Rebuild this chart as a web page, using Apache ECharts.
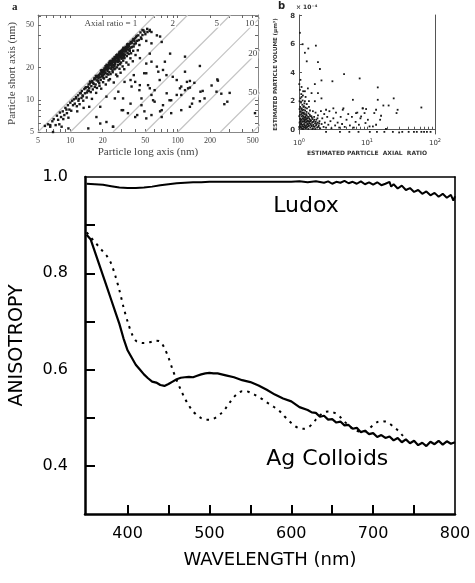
<!DOCTYPE html>
<html><head><meta charset="utf-8">
<script src="https://cdn.jsdelivr.net/npm/echarts@6/dist/echarts.min.js"></script>
<style>html,body{margin:0;padding:0;background:#fff}#c{width:475px;height:583px}</style>
</head><body><div id="c"></div>
<script>
// ---------- Panel a: particle long axis vs short axis (nm) ----------
const panelAPoints = [
[6.2,5.9],[6.5,5.6],[6.8,6.3],[7,6.6],[7.3,5.8],[7.5,7.1],[7.7,6.5],[8,7.6],[8.2,6.9],[8.5,7.8],[8.8,7.2],[7.9,5.9],
[9,8.4],[9.3,7.5],[9.5,8.9],[9.8,8.1],[10,9.4],[10.2,7.9],[10.4,9.8],[9.6,6.8],
[10.8,10.1],[11,9.2],[11.3,10.6],[11.5,8.7],[11.8,11],[12,10.2],[12.2,9.1],[12.5,11.6],[11.6,7.8],
[12.8,12.1],[13,11],[13.2,9.8],[13.5,12.6],[13.7,11.5],[14,13.1],[14.2,10.5],[14.5,12.2],[13.3,8.4],
[14.8,13.9],[15,12.8],[15.2,14.2],[15.5,11.8],[15.7,13.4],[16,15],[16.2,12.5],[16.5,14.1],[15.9,10.2],[16.7,15.5],
[17,15.8],[17.2,13.9],[17.5,16.2],[17.7,12.9],[18,16.8],[18.2,14.8],[18.5,17.1],[18.7,13.5],[17.4,11.6],[18.3,15.9],
[19,17.6],[19.2,15.3],[19.5,18.2],[19.7,16.6],[20,18.7],[20.2,14.6],[20.5,19.1],[20.7,17.3],[19.4,12.7],[20.3,16.1],[19.8,18.9],
[21,19.6],[21.2,17.8],[21.5,20.1],[21.7,16.4],[22,20.5],[22.2,18.6],[22.5,21],[22.7,15.2],[21.4,13.9],[22.3,19.4],[21.8,21.2],
[23,21.5],[23.2,19.7],[23.5,22],[23.7,17.4],[24,22.5],[24.2,20.3],[24.5,23],[24.7,18.8],[23.4,15.6],[24.3,21.7],[23.8,23.1],
[25,23.4],[25.2,21.2],[25.5,24],[25.7,19.3],[26,24.6],[26.2,22.4],[26.5,25],[26.7,17.2],[25.4,14.5],[26.3,23.5],[25.8,20.7],
[27,25.3],[27.2,23],[27.5,26],[27.7,21.1],[28,26.2],[28.2,24.1],[28.5,27],[28.7,19.5],[27.4,16.6],[28.3,25.5],[27.9,22.5],
[29,27.4],[29.2,25],[29.5,28],[29.7,22.3],[30,28.2],[30.2,26.1],[30.5,29],[30.7,20.5],[29.4,17.9],[30.3,27.3],[29.9,24.2],
[31,29.4],[31.3,27],[31.6,30],[32,24.5],[32.3,30.5],[32.6,28.2],[33,31.2],[33.3,22.3],[31.8,19.3],[32.8,29.6],[31.5,25.6],
[34,32],[34.3,29.5],[34.6,31],[35,26.8],[35.3,33],[35.7,30.2],[36,33.5],[36.3,24.4],[34.8,21.3],[35.8,28.6],
[37,34.5],[37.5,31.2],[38,35.7],[38.5,28.7],[39,36.5],[39.5,33.1],[40,37.5],[40.5,26.2],[38.2,22.9],
[41,38.5],[42,35.6],[43,40],[44,32.5],[45,42.6],[46,37.1],[42.5,29],[44.5,24.5],[48,44.5],[50,41],[52,46],[55,44],[51,35.5],
[16.3,14.4],[17.8,16.3],[18.9,17.4],[19.9,17.9],[20.8,19.6],[21.9,19.8],[22.8,20.8],[23.6,22.5],[24.6,22],[25.6,23.7],
[26.6,24.4],[27.6,24.9],[28.6,26.4],[29.6,26.5],[30.6,28.7],[31.9,29.1],[33.5,30.4],[24.1,19.5],[26.1,21.5],[28.1,23.4],
[22.1,17.5],[20.1,16.9],[30.1,25],[18.1,15.1],[26.9,26.1],[23.3,22.8],[21.3,20.6],[19.3,18.8],[17.3,16.7],[15.3,14.8],
[13.8,12.9],[12.3,11.5],[14.6,13.2],[28.9,28.1],[31.2,30.6],[33.9,32.9],
[15.6,14.6],[16.8,15.9],[17.6,15.2],[18.4,16.4],[19.1,16.2],[19.6,17.2],[20.4,18.2],[20.9,18.5],[21.6,19.2],[22.4,19.9],
[22.9,22.1],[23.9,21.1],[24.4,21.2],[24.9,24.1],[25.3,22.6],[25.9,25.1],[26.4,23.2],[26.8,22.8],[27.3,26.4],[27.8,24.2],
[28.4,25.1],[28.8,27.7],[29.3,26.2],[29.8,28.6],[30.4,27.9],[30.9,29.5],[31.4,28.3],[31.7,26.1],[32.2,29.2],[32.9,30.9],
[33.2,28.7],[33.7,31.3],[34.5,33.2],[35.1,31.9],[35.5,29],[36.5,34.8],[37.3,33.8],[38.7,36.9],[39.7,35.2],[41.5,39.6],
[20.6,15.8],[22.6,17.2],[24.8,18.1],[26.2,19.6],[27.1,20.1],[29.1,21.5],[31.1,23.2],[33.6,25.6],[36.8,27.2],[18.6,14.3],
[16.9,13.2],[14.9,12.1],[13.1,10.8],[11.9,9.8],[10.6,8.9],[9.2,8.1],[8.6,6.6],[12.7,10.4],[14.3,11.7],[23.1,18.2],
[25.1,20.1],[28.6,22.9],[30.8,24.5],[32.4,26.5],[34.1,27.4],[36.9,30.8],[38.9,31.5],[40.8,33.7],[43.5,36.2],[45.5,38.2],
[47,40.3],[49,43.2],
[117,25.3],[117,18.3],[161,20.7],[130,15],[143,14.4],[130,13],[207,13.6],[234,15.5],[237,15.1],[163,11.9],[171,12.1],
[230,11.9],[255,11.4],[305,11.6],[161,9.7],[178,10.3],[136,9.2],[272,9.1],[290,9.6],[525,7.5],
[64,40],[71,34.7],[57,43],[85,27],[64,20.4],[57,22.7],[51,17.7],[73,19],[39,17],[32,14.7],[37.2,13.3],[44,12.3],[53,13.7],
[68,15.3],[90,16.4],[105,12.8],[122,14.7],[79,11.5],[57,11.1],[46,10.3],[61,9.6],[84,9.9],[98,11.1],[117,12.3],[71,8.0],
[57,7.2],[42,7.2],[31,8.0],[26,10.3],[21.7,10.7],[19,8.6],[17.5,6.9],[19,6.0],[25,5.6],[14.7,5.4],[21.7,6.2],[87,7.5],
[140,10.3],[15,8.6],[11.3,10.3],[8.3,5.6],[9.6,5.4],[6.5,5.8],[5.8,5.7],[6.9,5.0],
[47,44.9],[52.3,43],[55,45],[68.6,39],[57,33.7],[55,27],[76,22.7],[66,18.3],[78.6,17],[51,21.8],[48.8,17.7],[36.4,15.3],
[40.2,14.7],[44.4,13.7],[55,12.8],[61,12.3],[98,15.3],[108,13.3],[125,12.8],[108,11.1],[87,9.9],[73,8.9],[68.6,7.8],
[71,6.9],[49,7.8],[36.4,9.2],[31,10.3],[28,11.9],[30.1,8.0],[34.4,7.5],[40.2,6.9],[46,8.9],[59,9.9],[25,5.6],[51,6.7],
[108,8.0],[130,8.6]
];
const axialRatios = [1, 2, 5, 10, 20, 50, 100];
const ratioLabels = [[23.9,52,'Axial ratio = 1'],[90,52,'2'],[231,52,'5'],[470,52,'10'],[500,26.8,'20'],[500,11.6,'50']];
const panelALongTicks = [5,6,7,8,9,10,20,30,40,50,60,70,80,90,100,200,300,400,500];
const panelALongLabels = [5,10,20,50,100,200,500];
const panelAShortTicks = [5,6,7,8,9,10,20,30,40,50,60];
const panelAShortLabels = [5,10,20,50];

// ---------- Panel b: estimated particle axial ratio vs volume (x1e-4 um^3) ----------
const panelBPoints = [
[1.03,6.8],[1.13,6.0],[1.22,5.4],[1.37,5.7],[1.77,5.9],[1.3,4.8],[1.9,4.75],[2.03,4.26],[4.6,3.9],[7.8,3.6],[3.1,3.4],
[2.14,3.46],[1.71,3.2],[1.09,3.0],[1.22,2.7],[1.35,2.9],[1.53,2.57],[1.9,2.57],[2.14,2.2],[6.2,2.1],[1.71,2.0],[3.2,1.5],
[2.5,1.4],[4.4,1.4],[6.9,1.17],[8.6,1.5],[14.4,2.97],[14.4,2.1],[17.4,1.7],[20.8,1.7],[24.7,2.2],[28.2,1.4],[27.2,1.17],
[63,1.56],[13.6,1.4],[12.8,1.17],[16.1,0.98],[15.6,0.7],[13.6,0.35],[12.2,0.23],[9.7,1.45],[8.7,1.5],[9.2,1.17],[8.2,0.93],
[10.3,0.7],[9.5,0.47],[10.9,0.23],[19,0.05],[29.7,-0.19],
[33,-0.15],[41,-0.15],[49,-0.15],[54,-0.15],[63,-0.15],[69,-0.15],[76,-0.15],[86,-0.15],
[2.5,-0.15],[4,-0.15],[5.5,-0.15],[7.5,-0.15],[11,-0.15],[14,-0.15],[18,-0.15],[24,-0.15],
[1.02,0.1],[1.03,0.3],[1.04,0.55],[1.05,0.8],[1.03,1.05],[1.06,1.3],[1.04,1.6],[1.07,1.9],[1.05,2.2],[1.08,2.5],[1.03,2.8],
[1.06,0.2],[1.08,0.45],[1.1,0.7],[1.09,0.95],[1.11,1.2],[1.1,1.45],[1.12,1.75],[1.13,2.05],[1.12,0.05],[1.14,0.35],[1.15,0.6],
[1.16,0.9],[1.15,1.15],[1.17,1.4],[1.18,1.65],[1.2,0.15],[1.19,0.4],[1.21,0.65],[1.22,0.85],[1.2,1.1],[1.23,1.35],[1.24,1.55],
[1.22,2.0],[1.26,0.1],[1.27,0.3],[1.25,0.5],[1.28,0.75],[1.3,1.0],[1.29,1.25],[1.31,1.5],[1.3,1.8],[1.33,0.2],[1.35,0.45],
[1.34,0.65],[1.36,0.9],[1.38,1.15],[1.37,0.05],[1.4,0.3],[1.42,0.55],[1.41,0.8],[1.44,1.05],[1.45,1.35],[1.47,0.15],[1.49,0.4],
[1.5,0.65],[1.52,0.95],[1.54,0.25],[1.56,0.5],[1.58,0.75],[1.6,0.1],[1.62,0.35],[1.65,0.6],[1.67,0.9],[1.7,0.2],[1.72,0.45],
[1.75,1.2],[1.78,0.3],[1.8,0.7],[1.85,0.15],[1.88,0.5],[1.9,1.0],[1.95,0.3],[2.0,0.6],[2.05,0.1],[2.1,1.3],[2.15,0.4],[2.2,0.8],
[2.3,0.2],[2.35,1.1],[2.4,0.5],[2.5,0.15],[2.6,0.9],[2.7,0.35],[2.8,1.3],[2.9,0.6],[3.0,0.1],[3.2,0.8],[3.4,0.3],[3.5,1.2],
[3.7,0.5],[3.9,0.15],[4.1,0.9],[4.3,0.4],[4.5,1.5],[4.7,0.2],[5.0,0.7],[5.3,1.1],[5.6,0.3],[6.0,0.9],[6.4,0.15],[6.8,0.55],
[7.2,1.2],[7.6,0.35],[8.0,0.8],[1.01,3.2],[1.05,3.5],[1.15,2.7],[1.25,2.3],[1.4,2.0],[1.12,0.25],[1.18,0.75],[1.28,0.55],
[1.08,1.1],[1.35,0.35],[1.02,1.45],[1.45,0.7],[1.06,0.65],[1.16,0.05],[1.24,0.95],
[1.01,0.2],[1.02,0.5],[1.04,0.75],[1.01,0.95],[1.07,0.15],[1.09,0.35],[1.11,0.55],[1.13,0.8],[1.14,1.0],[1.17,0.2],
[1.19,0.55],[1.21,0.3],[1.23,0.7],[1.26,0.85],[1.27,1.1],[1.29,0.15],[1.32,0.4],[1.33,0.8],[1.36,0.6],[1.39,0.25],
[1.43,0.45],[1.46,0.95],[1.48,0.6],[1.51,0.3],[1.55,0.85],[1.57,0.05],[1.61,0.55],[1.64,0.25],[1.68,0.7],[1.73,0.05],
[1.76,0.55],[1.82,0.4],[1.87,0.8],[1.92,0.2],[1.98,0.45],[1.04,1.25],[1.08,1.5],[1.12,1.35],[1.16,1.6],[1.2,1.85],
[1.09,2.3],[1.14,2.4],[1.02,2.0],[1.3,0.6],[1.18,1.2],[1.11,0.1],[1.05,0.4],[1.25,0.2],[1.4,1.6],[1.6,1.3]
];
const panelBRatioTicks = [1,2,3,4,5,6,7,8,9,10,20,30,40,50,60,70,80,90,100];
const panelBRatioLabels = [1,10,100];
const panelBVolumeLabels = [0,2,4,6,8];

// ---------- Main panel: anisotropy vs wavelength ----------
const ludoxWl  = [350,360,370,380,390,400,410,420,430,440,450,460,470,480,490,500,520,540,560,580,600,610,620,630,640,645,650,655,660,665,670,675,680,685,690,695,700,705,710,715,720,722,725,730,735,740,745,750,755,760,765,770,775,780,785,790,795,798,800];
const ludoxVal = [0.986,0.985,0.984,0.981,0.978,0.977,0.977,0.978,0.980,0.983,0.985,0.987,0.988,0.989,0.989,0.990,0.990,0.990,0.990,0.990,0.990,0.991,0.989,0.991,0.988,0.991,0.986,0.990,0.988,0.992,0.987,0.990,0.986,0.991,0.985,0.989,0.984,0.989,0.983,0.986,0.990,0.980,0.985,0.976,0.982,0.973,0.977,0.969,0.973,0.965,0.970,0.962,0.967,0.959,0.965,0.957,0.963,0.951,0.960];
const agSolidWl  = [350,355,360,365,370,375,380,385,390,395,400,405,410,415,420,425,430,435,440,445,450,455,460,465,470,475,480,485,490,495,500,505,510,515,520,530,540,550,560,570,580,590,600,610,620,625,630,635,640,645,650,655,660,665,670,675,680,685,690,695,700,705,710,715,720,725,730,735,740,745,750,755,760,765,770,775,780,785,790,795,800];
const agSolidVal = [0.88,0.87,0.845,0.82,0.795,0.77,0.745,0.72,0.695,0.665,0.64,0.625,0.61,0.60,0.59,0.582,0.575,0.573,0.568,0.566,0.57,0.575,0.58,0.583,0.584,0.585,0.584,0.587,0.59,0.592,0.593,0.592,0.592,0.59,0.588,0.584,0.578,0.574,0.567,0.558,0.548,0.54,0.534,0.522,0.516,0.511,0.510,0.502,0.504,0.496,0.497,0.490,0.492,0.484,0.485,0.477,0.479,0.470,0.473,0.466,0.468,0.460,0.464,0.458,0.461,0.453,0.458,0.449,0.455,0.447,0.452,0.443,0.448,0.441,0.450,0.445,0.452,0.444,0.451,0.446,0.449];
const agDotWl  = [350,355,360,365,370,375,380,385,390,395,400,405,410,415,420,425,430,435,440,445,450,455,460,465,470,475,480,485,490,495,500,505,510,515,520,525,530,535,540,545,550,555,560,565,570,575,580,585,590,595,600,605,610,615,620,625,630,635,640,645,650,655,660,665,670,675,680,685,690,695,700,705,710,715,720,725,730,735,740];
const agDotVal = [0.885,0.875,0.865,0.855,0.845,0.835,0.82,0.795,0.765,0.73,0.70,0.675,0.66,0.656,0.655,0.656,0.658,0.66,0.658,0.645,0.625,0.60,0.578,0.558,0.54,0.525,0.513,0.505,0.499,0.496,0.496,0.498,0.503,0.51,0.52,0.532,0.543,0.551,0.555,0.555,0.552,0.548,0.543,0.538,0.532,0.527,0.521,0.515,0.506,0.497,0.489,0.482,0.478,0.477,0.479,0.486,0.496,0.505,0.511,0.513,0.512,0.508,0.501,0.492,0.484,0.477,0.473,0.471,0.472,0.477,0.485,0.491,0.493,0.492,0.488,0.481,0.474,0.465,0.456];
const wlTicks = [400,450,500,550,600,650,700,750];
const wlLabels = [400,500,600,700,800];
const anisoTicks = [0.4,0.5,0.6,0.7,0.8,0.9];
const anisoLabels = [0.4,0.6,0.8,1.0];
const mainNotes = [[618,0.94,'Ludox'],[644,0.414,'Ag Colloids']];

const zip = (a, b) => a.map((v, i) => [v, b[i]]);
const SERIF = 'Liberation Serif, DejaVu Serif, serif';
const SANS = 'DejaVu Sans, sans-serif';

const chart = echarts.init(document.getElementById('c'), null, {renderer: 'canvas'});
const none = {show: false};
const option = {
  animation: false,
  backgroundColor: '#fff',
  grid: [
    {left: 38, top: 15, width: 220, height: 117},
    {left: 299, top: 15, width: 136, height: 119},
    {left: 81, top: 177, width: 374, height: 337}
  ],
  xAxis: [
    {gridIndex: 0, type: 'log', min: 5, max: 560,
     name: 'Particle long axis (nm)', nameLocation: 'middle', nameGap: 15,
     nameTextStyle: {fontFamily: SERIF, fontSize: 11, color: '#444'},
     axisLine: {show: true, lineStyle: {color: '#888', width: 1}},
     axisTick: {inside: true, length: 3, lineStyle: {color: '#666'}, customValues: panelALongTicks},
     axisLabel: {customValues: panelALongLabels, fontFamily: SERIF, fontSize: 8, color: '#444', margin: 5},
     splitLine: none, minorTick: none},
    {gridIndex: 0, type: 'log', min: 5, max: 560, position: 'top',
     axisLine: {show: true, lineStyle: {color: '#888', width: 1}},
     axisTick: {inside: true, length: 3, lineStyle: {color: '#666'}, customValues: panelALongTicks},
     axisLabel: none, splitLine: none},
    {gridIndex: 1, type: 'log', min: 1, max: 100,
     name: 'ESTIMATED PARTICLE  AXIAL  RATIO', nameLocation: 'middle', nameGap: 16,
     nameTextStyle: {fontFamily: SANS, fontSize: 6, fontWeight: 'bold', color: '#333'},
     axisLine: {show: true, lineStyle: {color: '#555', width: 1}},
     axisTick: {inside: true, length: 3, lineStyle: {color: '#555'}, customValues: panelBRatioTicks},
     axisLabel: {customValues: panelBRatioLabels, margin: 4,
       formatter: v => '{b|10}{s|' + Math.round(Math.log10(v)) + '}',
       rich: {b: {fontFamily: SANS, fontSize: 7, color: '#333'}, s: {fontFamily: SANS, fontSize: 5, color: '#333', verticalAlign: 'top', padding: [0, 0, 5, 0]}}},
     splitLine: none},
    {gridIndex: 1, type: 'log', min: 1, max: 100, position: 'top',
     axisLine: {show: true, lineStyle: {color: '#555', width: 1}}, axisTick: none, axisLabel: none, splitLine: none},
    {gridIndex: 2, type: 'value', min: 348, max: 800,
     name: 'WAVELENGTH (nm)', nameLocation: 'middle', nameGap: 37,
     nameTextStyle: {fontFamily: SANS, fontSize: 18, color: '#000'},
     axisLine: {show: true, lineStyle: {color: '#000', width: 2.5}},
     axisTick: {inside: true, length: 9, lineStyle: {color: '#000', width: 2}, customValues: wlTicks},
     axisLabel: {customValues: wlLabels, fontFamily: SANS, fontSize: 16, color: '#000', margin: 12},
     splitLine: none},
    {gridIndex: 2, type: 'value', min: 348, max: 800, position: 'top',
     axisLine: {show: true, lineStyle: {color: '#000', width: 1.6}}, axisTick: none, axisLabel: none, splitLine: none}
  ],
  yAxis: [
    {gridIndex: 0, type: 'log', min: 5, max: 62,
     name: 'Particle short axis (nm)', nameLocation: 'middle', nameGap: 20,
     nameTextStyle: {fontFamily: SERIF, fontSize: 11, color: '#444'},
     axisLine: {show: true, lineStyle: {color: '#888', width: 1}},
     axisTick: {inside: true, length: 3, lineStyle: {color: '#666'}, customValues: panelAShortTicks},
     axisLabel: {customValues: panelAShortLabels, fontFamily: SERIF, fontSize: 8, color: '#444', margin: 4},
     splitLine: none},
    {gridIndex: 0, type: 'log', min: 5, max: 62, position: 'right',
     axisLine: {show: true, lineStyle: {color: '#888', width: 1}},
     axisTick: {inside: true, length: 3, lineStyle: {color: '#666'}, customValues: panelAShortTicks},
     axisLabel: none, splitLine: none},
    {gridIndex: 1, type: 'value', min: -0.3, max: 8.05,
     name: 'ESTIMATED PARTICLE VOLUME (\u03bcm\u00b3)', nameLocation: 'middle', nameGap: 20,
     nameTextStyle: {fontFamily: SANS, fontSize: 5.5, fontWeight: 'bold', color: '#333'},
     axisLine: {show: true, lineStyle: {color: '#555', width: 1}},
     axisTick: {inside: true, length: 3, lineStyle: {color: '#555'}, customValues: panelBVolumeLabels},
     axisLabel: {customValues: panelBVolumeLabels, fontFamily: SANS, fontSize: 7, fontWeight: 'bold', color: '#333', margin: 4},
     splitLine: none},
    {gridIndex: 1, type: 'value', min: -0.3, max: 8.05, position: 'right',
     axisLine: {show: true, lineStyle: {color: '#555', width: 1}}, axisTick: none, axisLabel: none, splitLine: none},
    {gridIndex: 2, type: 'value', min: 0.3, max: 1.0,
     name: 'ANISOTROPY', nameLocation: 'middle', nameGap: 58,
     nameTextStyle: {fontFamily: SANS, fontSize: 19, color: '#000'},
     axisLine: {show: true, lineStyle: {color: '#000', width: 2.5}},
     axisTick: {inside: true, length: 10, lineStyle: {color: '#000', width: 2}, customValues: anisoTicks},
     axisLabel: {customValues: anisoLabels, fontFamily: SANS, fontSize: 16, color: '#000', margin: 17,
       formatter: v => v.toFixed(1)},
     splitLine: none},
    {gridIndex: 2, type: 'value', min: 0.3, max: 1.0, position: 'right',
     axisLine: {show: true, lineStyle: {color: '#000', width: 1.6}}, axisTick: none, axisLabel: none, splitLine: none}
  ],
  graphic: [
    {type: 'text', left: 12, top: 2, style: {text: 'a', font: 'bold 11px ' + SERIF, fill: '#222'}},
    {type: 'text', left: 278, top: 1, style: {text: 'b', font: 'bold 10px ' + SANS, fill: '#222'}},
    {type: 'text', left: 296, top: 4, style: {text: '\u00d7 10\u207b\u2074', font: 'bold 6px ' + SANS, fill: '#333'}}
  ],
  series: [
    ...axialRatios.map(r => ({
      type: 'line', xAxisIndex: 0, yAxisIndex: 0, data: [[5 * r, 5], [62 * r, 62]],
      symbol: 'none', silent: true, clip: true, z: 1,
      lineStyle: {color: '#c4c4c4', width: 1.2}
    })),
    {type: 'scatter', xAxisIndex: 0, yAxisIndex: 0, data: panelAPoints, symbol: 'rect', symbolSize: 2.4,
     itemStyle: {color: '#1a1a1a', opacity: 1}, z: 3},
    {type: 'scatter', xAxisIndex: 0, yAxisIndex: 0, data: ratioLabels, symbolSize: 0, z: 4,
     itemStyle: {opacity: 1},
     label: {show: true, position: 'inside', formatter: p => p.data[2], fontFamily: SERIF, fontSize: 9, color: '#444',
       backgroundColor: '#fff', padding: [0, 1]}},
    {type: 'scatter', xAxisIndex: 2, yAxisIndex: 2, data: panelBPoints, symbol: 'rect', symbolSize: 1.8,
     itemStyle: {color: '#1a1a1a', opacity: 1}, z: 3},
    {type: 'line', xAxisIndex: 4, yAxisIndex: 4, data: zip(ludoxWl, ludoxVal), symbol: 'none',
     lineStyle: {color: '#000', width: 2}},
    {type: 'line', xAxisIndex: 4, yAxisIndex: 4, data: zip(agSolidWl, agSolidVal), symbol: 'none',
     lineStyle: {color: '#000', width: 2.2}},
    {type: 'line', xAxisIndex: 4, yAxisIndex: 4, data: zip(agDotWl, agDotVal), symbol: 'none', smooth: 0.3,
     lineStyle: {color: '#000', width: 2, type: [2.5, 5]}},
    {type: 'scatter', xAxisIndex: 4, yAxisIndex: 4, data: mainNotes, symbolSize: 0,
     itemStyle: {opacity: 1},
     label: {show: true, position: 'inside', formatter: p => p.data[2], fontFamily: SANS, fontSize: 22, color: '#000', opacity: 1}}
  ]
};
chart.setOption(option);
</script></body></html>
